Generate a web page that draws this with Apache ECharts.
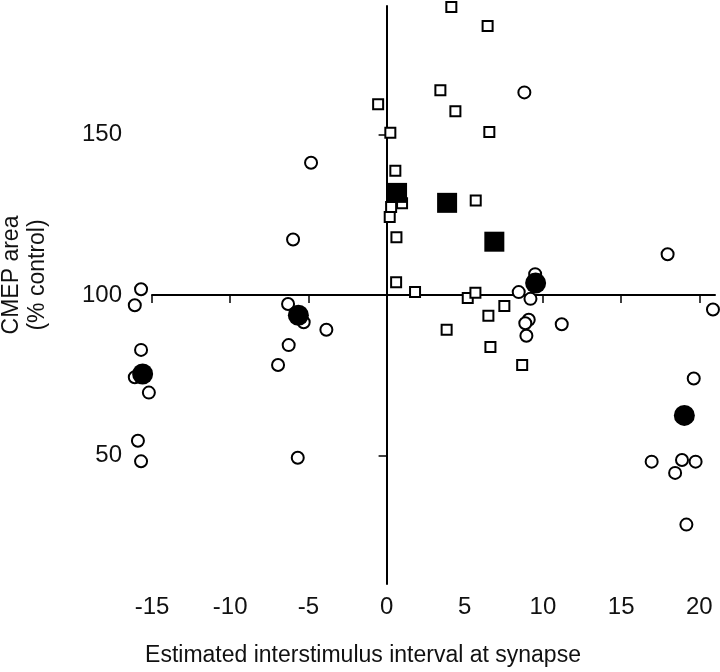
<!DOCTYPE html>
<html>
<head>
<meta charset="utf-8">
<script src="https://cdn.jsdelivr.net/npm/echarts@6/dist/echarts.min.js"></script>
<style>
  html, body { margin: 0; padding: 0; background: #fff; }
  #chart { width: 720px; height: 672px; }
</style>
</head>
<body>
<div id="chart"></div>
<script>
// tick values
const xTicks = [-15, -10, -5, 0, 5, 10, 15, 20];
const yTicks = [50, 100, 150];

// individual recordings, open circles
const openCircles = [
    [-15.7, 101.8], [-16.1, 96.8], [-15.7, 82.9], [-16.1, 74.4], [-15.2, 69.6], [-15.9, 54.6], [-15.7, 48.2],
    [-6.3, 97.2], [-5.3, 91.5], [-3.85, 89.2], [-6.26, 84.4], [-6.94, 78.2], [-5.98, 117.3], [-4.83, 141.2], [-5.68, 49.3],
    [8.81, 163.1], [8.45, 100.9], [9.2, 98.8], [9.5, 106.5], [9.09, 92.3], [8.87, 91.2], [8.94, 87.3], [11.2, 90.9],
    [17.97, 112.7], [20.87, 95.5], [19.64, 74.0], [16.95, 48.1], [18.89, 48.6], [19.76, 48.1], [18.45, 44.6], [19.17, 28.5]
];

// individual recordings, open squares
const openSquares = [
    [-0.54, 159.4], [0.24, 150.5], [0.56, 138.7], [0.29, 127.4], [0.99, 128.6], [0.2, 124.3], [0.63, 118.0],
    [0.61, 104.0], [1.82, 100.9],
    [4.14, 189.7], [6.46, 183.8], [3.44, 163.8], [4.40, 157.2], [6.57, 150.8], [5.70, 129.4],
    [5.19, 99.1], [5.68, 100.7], [7.53, 96.6], [6.51, 93.5], [3.84, 89.2], [6.64, 83.8], [8.67, 78.2]
];

// group means
const meanCircles = [[-15.6, 75.4], [-5.64, 93.7], [9.53, 103.7], [19.04, 62.5]];
const meanSquares = [[0.67, 131.8], [3.87, 128.7], [6.89, 116.6]];

const FONT = '"Liberation Sans", Arial, sans-serif';
const chart = echarts.init(document.getElementById('chart'));

const openStyle = { color: '#fff', borderColor: '#000', borderWidth: 2, opacity: 1 };
const filledStyle = { color: '#000', opacity: 1 };

const options = {
    animation: false,
    backgroundColor: '#fff',
    grid: { left: 152, right: 5, top: 6, bottom: 88 },
    xAxis: [
        {
            // labels along the bottom
            type: 'value', min: -15, max: 21, position: 'bottom',
            axisLine: { show: false, onZero: false },
            axisTick: { show: false },
            splitLine: { show: false },
            axisLabel: { customValues: xTicks, fontSize: 24, fontFamily: FONT, color: '#111', margin: 11 }
        },
        {
            // the line crossing at y = 100
            type: 'value', min: -15, max: 21, position: 'bottom',
            axisLine: { show: true, onZero: true, onZeroAxisIndex: 2, lineStyle: { color: '#000', width: 2 } },
            axisTick: { show: true, customValues: xTicks, length: 8, lineStyle: { color: '#000', width: 1.5 } },
            axisLabel: { show: false },
            splitLine: { show: false }
        }
    ],
    yAxis: [
        {
            type: 'value', min: 10, max: 190, position: 'left',
            axisLine: { show: false, onZero: false },
            axisTick: { show: false },
            splitLine: { show: false },
            axisLabel: { customValues: yTicks, fontSize: 24, fontFamily: FONT, color: '#111', margin: 30 }
        },
        {
            type: 'value', min: 10, max: 190, position: 'left',
            axisLine: { show: true, onZero: true, onZeroAxisIndex: 0, lineStyle: { color: '#000', width: 2 } },
            axisTick: { show: true, customValues: yTicks, length: 8, lineStyle: { color: '#000', width: 1.5 } },
            axisLabel: { show: false },
            splitLine: { show: false }
        },
        {
            // hidden helper: its zero sits at 100 on the main scale
            type: 'value', min: -90, max: 90, show: false
        }
    ],
    graphic: [
        {
            type: 'text', x: 25, y: 275, rotation: Math.PI / 2,
            style: {
                text: 'CMEP area\n(% control)', font: '23px ' + FONT, fill: '#111',
                align: 'center', verticalAlign: 'middle', lineHeight: 26
            }
        },
        {
            type: 'text', x: 363, y: 656,
            style: {
                text: 'Estimated interstimulus interval at synapse', font: '23px ' + FONT, fill: '#111',
                align: 'center', verticalAlign: 'middle'
            }
        }
    ],
    series: [
        { name: 'circles', type: 'scatter', clip: false, symbol: 'circle', symbolSize: 12, itemStyle: openStyle, data: openCircles },
        { name: 'squares', type: 'scatter', clip: false, symbol: 'rect', symbolSize: 10, itemStyle: openStyle, data: openSquares },
        { name: 'circle means', type: 'scatter', clip: false, symbol: 'circle', symbolSize: 21, itemStyle: filledStyle, data: meanCircles },
        { name: 'square means', type: 'scatter', clip: false, symbol: 'rect', symbolSize: 20, itemStyle: filledStyle, data: meanSquares }
    ]
};

chart.setOption(options);
</script>
</body>
</html>
